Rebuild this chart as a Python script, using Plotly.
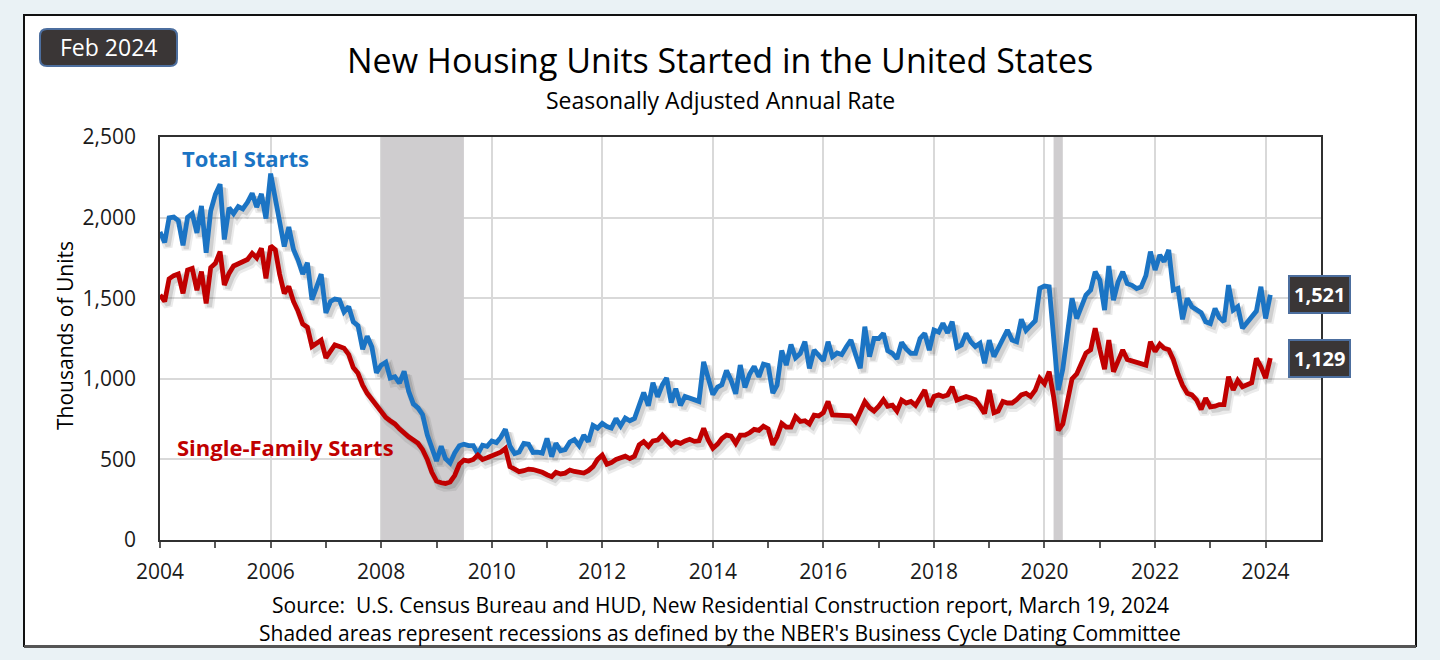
import pandas as pd
import plotly.graph_objects as go

# ---------------- data (thousands of units, SAAR) ----------------
months = pd.date_range("2004-01-01", periods=242, freq="MS")

total_starts = [
    1911, 1846, 1998, 2003, 1981, 1828, 2002, 2024, 1905, 2072, 1782, 2042,  # 2004
    2144, 2207, 1864, 2061, 2025, 2068, 2054, 2095, 2151, 2065, 2147, 1994,  # 2005
    2273, 2119, 1969, 1821, 1942, 1802, 1737, 1650, 1720, 1491, 1570, 1649,  # 2006
    1409, 1480, 1495, 1490, 1415, 1448, 1354, 1330, 1183, 1264, 1197, 1037,  # 2007
    1084, 1103, 1005, 1013, 973, 1046, 923, 844, 820, 777, 652, 560,         # 2008
    490, 582, 505, 478, 540, 585, 594, 586, 585, 534, 588, 581,              # 2009
    614, 604, 636, 687, 583, 536, 546, 599, 594, 543, 545, 539,              # 2010
    630, 517, 600, 554, 561, 608, 623, 585, 650, 610, 711, 694,              # 2011
    723, 704, 695, 753, 708, 757, 740, 754, 847, 915, 833, 976,              # 2012
    888, 962, 1005, 853, 939, 835, 891, 883, 870, 860, 1105, 1003,           # 2013
    902, 949, 963, 1052, 991, 907, 1085, 946, 1030, 1077, 1012, 1091,        # 2014
    1083, 911, 960, 1175, 1085, 1212, 1130, 1157, 1230, 1065, 1178, 1146,    # 2015
    1113, 1230, 1137, 1160, 1150, 1199, 1240, 1150, 1065, 1323, 1137, 1250,  # 2016
    1250, 1282, 1175, 1158, 1124, 1226, 1185, 1158, 1158, 1250, 1282, 1178,  # 2017
    1302, 1290, 1344, 1285, 1354, 1195, 1210, 1282, 1230, 1200, 1220, 1096,  # 2018
    1240, 1137, 1190, 1260, 1303, 1240, 1230, 1369, 1300, 1330, 1360, 1561,  # 2019
    1575, 1570, 1290, 931, 1060, 1270, 1500, 1374, 1450, 1520, 1550, 1664,   # 2020
    1612, 1426, 1700, 1488, 1600, 1664, 1590, 1580, 1560, 1570, 1640, 1789,  # 2021
    1675, 1768, 1727, 1799, 1551, 1561, 1369, 1499, 1447, 1426, 1410, 1354,  # 2022
    1343, 1436, 1380, 1354, 1581, 1426, 1447, 1313, 1350, 1390, 1420, 1571,  # 2023
    1374, 1521,                                                              # 2024
]

single_family_starts = [
    1520, 1480, 1620, 1640, 1650, 1530, 1675, 1685, 1550, 1665, 1468, 1690,  # 2004
    1716, 1789, 1582, 1654, 1700, 1715, 1730, 1740, 1778, 1750, 1809, 1623,  # 2005
    1824, 1800, 1650, 1530, 1572, 1480, 1420, 1340, 1320, 1200, 1220, 1240,  # 2006
    1130, 1170, 1210, 1200, 1190, 1150, 1070, 1034, 960, 910, 870, 830,      # 2007
    800, 760, 740, 720, 690, 660, 640, 620, 600, 560, 500, 420,              # 2008
    365, 355, 351, 360, 400, 470, 496, 490, 500, 527, 500, 510,              # 2009
    520, 530, 545, 568, 455, 440, 424, 430, 440, 437, 430, 420,              # 2010
    405, 393, 420, 410, 415, 434, 425, 420, 415, 430, 455, 500,              # 2011
    527, 470, 480, 500, 510, 520, 505, 520, 590, 610, 580, 615,              # 2012
    620, 651, 620, 589, 610, 600, 615, 625, 612, 615, 693, 620,              # 2013
    569, 595, 630, 651, 645, 600, 650, 650, 665, 686, 680, 706,              # 2014
    690, 591, 640, 723, 700, 700, 765, 735, 740, 720, 775, 770,              # 2015
    790, 859, 776, 776, 770, 776, 770, 734, 800, 858, 820, 800,              # 2016
    830, 870, 830, 836, 800, 868, 850, 860, 835, 880, 930, 827,              # 2017
    890, 900, 890, 900, 950, 868, 880, 890, 880, 870, 830, 785,              # 2018
    930, 790, 800, 860, 850, 850, 870, 900, 910, 890, 930, 1003,             # 2019
    970, 1044, 890, 680, 720, 850, 1000, 1030, 1090, 1160, 1180, 1313,       # 2020
    1180, 1060, 1240, 1044, 1110, 1179, 1120, 1110, 1100, 1090, 1085, 1230,  # 2021
    1170, 1215, 1190, 1180, 1120, 1030, 960, 910, 900, 870, 810, 880,        # 2022
    826, 830, 840, 840, 1013, 930, 990, 951, 965, 975, 1127, 1075,           # 2023
    1004, 1129,                                                              # 2024
]

recession_starts = ["2008-01-01", "2020-03-01"]
recession_ends = ["2009-07-01", "2020-05-01"]

x_tick_years = list(range(2004, 2025, 2))
y_ticks = [0, 500, 1000, 1500, 2000, 2500]

# ---------------- styling ----------------
FONT = "Open Sans"
BLUE = "#1B74C4"
RED = "#C00000"
PAGE_BG = "#EAF2F5"
BADGE_FILL = "#3A3636"
BADGE_EDGE = "#4C6E9E"

W, H = 1440, 660
PL, PR, PT, PB = 160, 1321, 137, 540  # plot area in pixels


def px_to_paper(px, py):
    return (px - PL) / (PR - PL), (PB - py) / (PB - PT)


def rounded_rect(px0, py0, px1, py1, r):
    def P(x, y):
        a, b = px_to_paper(x, y)
        return f"{a:.5f},{b:.5f}"
    return (
        f"M {P(px0 + r, py0)} L {P(px1 - r, py0)} Q {P(px1, py0)} {P(px1, py0 + r)} "
        f"L {P(px1, py1 - r)} Q {P(px1, py1)} {P(px1 - r, py1)} "
        f"L {P(px0 + r, py1)} Q {P(px0, py1)} {P(px0, py1 - r)} "
        f"L {P(px0, py0 + r)} Q {P(px0, py0)} {P(px0 + r, py0)} Z"
    )


fig = go.Figure()

# recession shading (drawn as traces: above gridlines, below the series)
ymax = y_ticks[-1]
for s, e in zip(recession_starts, recession_ends):
    fig.add_trace(go.Scatter(
        x=[s, s, e, e, s], y=[0, ymax, ymax, 0, 0],
        fill="toself", fillcolor="#CFCDCF", line=dict(width=0),
        mode="lines", hoverinfo="skip", showlegend=False))

# drop shadows
shift = pd.Timedelta(days=22)
for vals in (total_starts, single_family_starts):
    fig.add_trace(go.Scatter(
        x=months + shift, y=[v - 28 for v in vals], mode="lines",
        line=dict(color="rgba(60,60,60,0.10)", width=9),
        hoverinfo="skip", showlegend=False))
    fig.add_trace(go.Scatter(
        x=months + shift, y=[v - 22 for v in vals], mode="lines",
        line=dict(color="rgba(60,60,60,0.16)", width=5),
        hoverinfo="skip", showlegend=False))

fig.add_trace(go.Scatter(x=months, y=total_starts, mode="lines",
                         line=dict(color=BLUE, width=4.8), name="Total Starts",
                         showlegend=False))
fig.add_trace(go.Scatter(x=months, y=single_family_starts, mode="lines",
                         line=dict(color=RED, width=4.8), name="Single-Family Starts",
                         showlegend=False))

shapes = []
c0 = px_to_paper(24, 646)
c1 = px_to_paper(1416, 15)
shapes.append(dict(type="rect", xref="paper", yref="paper", layer="below",
                   x0=c0[0], y0=c0[1], x1=c1[0], y1=c1[1],
                   fillcolor="white", line=dict(color="#111111", width=2)))
s0 = px_to_paper(24, 648)
s1 = px_to_paper(1416, 645)
shapes.append(dict(type="rect", xref="paper", yref="paper", layer="below",
                   x0=s0[0], y0=s0[1], x1=s1[0], y1=s1[1],
                   fillcolor="#555555", line=dict(width=0)))
shapes.append(dict(type="path", xref="paper", yref="paper", layer="below",
                   path=rounded_rect(40, 29, 177, 66, 7),
                   fillcolor=BADGE_FILL, line=dict(color=BADGE_EDGE, width=2)))

annotations = []


def ann(px, py, text, size, color="black", bold=False, **kw):
    ax, ay = px_to_paper(px, py)
    annotations.append(dict(
        xref="paper", yref="paper", x=ax, y=ay,
        text=f"<b>{text}</b>" if bold else text,
        xanchor="center", yanchor="middle",
        showarrow=False, font=dict(family=FONT, size=size, color=color), **kw))


ann(108, 47, "Feb 2024", 23, color="white")
ann(720, 60, "New Housing Units Started in the United States", 34)
ann(720, 100, "Seasonally Adjusted Annual Rate", 23)
ann(245, 158, "Total Starts", 22, color=BLUE, bold=True)
ann(285, 447, "Single-Family Starts", 22, color=RED, bold=True)
ann(720, 605, "Source:  U.S. Census Bureau and HUD, New Residential Construction report, March 19, 2024", 21)
ann(720, 633, "Shaded areas represent recessions as defined by the NBER's Business Cycle Dating Committee", 21)
ann(65, 336, "Thousands of Units", 21, textangle=-90)

# end-value labels
lx, _ = px_to_paper(1319, 0)
for vals in (total_starts, single_family_starts):
    annotations.append(dict(
        xref="paper", yref="y", x=lx, y=vals[-1], text=f"<b>{vals[-1]:,}</b>",
        xanchor="center", yanchor="middle",
        showarrow=False, font=dict(family=FONT, size=20, color="white"),
        bgcolor=BADGE_FILL, bordercolor=BADGE_EDGE, borderwidth=2, borderpad=4))

fig.update_layout(
    width=W, height=H,
    margin=dict(l=PL, r=W - PR, t=PT, b=H - PB, pad=0),
    paper_bgcolor=PAGE_BG, plot_bgcolor="white",
    font=dict(family=FONT, color="#1a1a1a"),
    shapes=shapes, annotations=annotations, showlegend=False,
)

fig.update_xaxes(
    type="date", range=["2004-01-01", "2025-01-01"],
    tickvals=[f"{y}-01-01" for y in x_tick_years],
    ticktext=[str(y) for y in x_tick_years],
    tickfont=dict(family=FONT, size=21, color="#1a1a1a"),
    ticks="outside", ticklen=6, tickcolor="#595959", tickwidth=1.5,
    minor=dict(tickvals=[f"{y}-01-01" for y in range(2005, 2025, 2)],
               ticks="outside", ticklen=6, tickcolor="#595959", tickwidth=1.5,
               showgrid=False),
    showgrid=True, gridcolor="#D9D9D9", gridwidth=1.5,
    showline=True, linecolor="#303030", linewidth=1.5, mirror=True,
    ticklabelstandoff=6,
)
fig.update_yaxes(
    range=[0, ymax], tickvals=y_ticks, tickformat=",",
    tickfont=dict(family=FONT, size=21, color="#1a1a1a"),
    showgrid=True, gridcolor="#D9D9D9", gridwidth=1.5,
    showline=True, linecolor="#303030", linewidth=1.5, mirror=True,
    ticks="", ticklabelstandoff=18, zeroline=False,
)

fig.write_html(
    "out.html",
    config={"displayModeBar": False},
    post_script="document.body.style.margin='0';"
                f"document.body.style.background='{PAGE_BG}';",
)
